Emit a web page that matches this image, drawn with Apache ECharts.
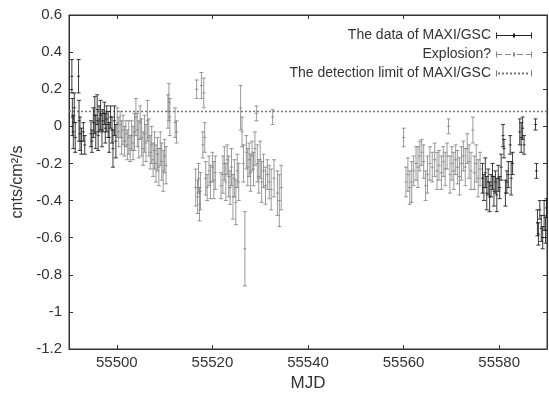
<!DOCTYPE html>
<html>
<head>
<meta charset="utf-8">
<script src="https://cdn.jsdelivr.net/npm/echarts@6/dist/echarts.min.js"></script>
<style>
  html, body { margin: 0; padding: 0; background: #fff; }
  #chart { width: 549px; height: 397px; }
</style>
</head>
<body>
<div id="chart"></div>
<script>
// [MJD, cnts/cm2/s, error]
const maxiData = [
  [55490.6, 0.27, 0.09], [55490.7, 0.05, 0.10], [55490.9, -0.03, 0.09], [55491.1, 0.10, 0.08],
  [55491.3, -0.06, 0.08], [55492.0, 0.27, 0.09], [55492.1, 0.03, 0.11], [55492.3, -0.04, 0.09],
  [55492.6, -0.08, 0.07], [55493.0, -0.03, 0.05], [55493.3, -0.10, 0.05], [55494.6, -0.04, 0.07],
  [55494.8, -0.08, 0.06], [55495.1, 0.02, 0.08], [55495.4, 0.06, 0.10], [55495.6, -0.03, 0.09],
  [55495.9, 0.09, 0.08], [55496.1, -0.05, 0.08], [55496.3, 0.04, 0.07], [55496.6, 0.06, 0.08],
  [55496.9, -0.02, 0.09], [55497.1, 0.03, 0.06], [55497.4, 0.07, 0.06], [55497.6, -0.01, 0.08],
  [55497.9, 0.04, 0.07], [55498.2, 0.01, 0.07], [55498.4, -0.06, 0.08], [55498.7, 0.05, 0.06],
  [55499.0, -0.02, 0.07], [55499.2, -0.12, 0.10], [55499.5, 0.03, 0.08], [55499.8, -0.08, 0.09],
  [55576.5, -0.28, 0.08], [55576.8, -0.33, 0.07], [55577.1, -0.25, 0.08], [55577.4, -0.36, 0.09],
  [55577.7, -0.30, 0.07], [55578.0, -0.38, 0.08], [55578.3, -0.32, 0.06], [55578.6, -0.27, 0.07],
  [55578.9, -0.35, 0.08], [55579.2, -0.30, 0.06], [55579.5, -0.37, 0.09], [55579.8, -0.28, 0.07],
  [55580.1, -0.33, 0.06], [55580.4, -0.22, 0.07], [55580.8, -0.05, 0.06], [55581.0, -0.12, 0.05],
  [55581.3, -0.36, 0.07], [55581.6, -0.30, 0.06], [55581.9, -0.26, 0.07], [55582.3, -0.10, 0.05],
  [55582.5, -0.28, 0.09], [55582.8, -0.20, 0.06], [55584.3, -0.03, 0.07], [55584.6, -0.06, 0.08],
  [55584.9, -0.01, 0.06], [55585.2, -0.10, 0.05], [55587.6, 0.01, 0.03], [55587.8, -0.24, 0.04],
  [55588.0, -0.52, 0.07], [55588.2, -0.58, 0.06], [55588.5, -0.45, 0.05], [55588.8, -0.55, 0.07],
  [55589.1, -0.60, 0.06], [55589.4, -0.48, 0.08], [55589.7, -0.56, 0.07], [55589.9, -0.44, 0.05]
];

const explosionData = [
  [55500.1, 0.02, 0.08], [55500.4, -0.03, 0.08], [55500.7, 0.01, 0.07], [55501.0, -0.06, 0.09],
  [55501.3, -0.02, 0.08], [55501.6, -0.08, 0.08], [55501.9, -0.04, 0.07], [55502.2, -0.10, 0.08],
  [55502.5, -0.06, 0.09], [55502.8, -0.12, 0.07], [55503.1, -0.05, 0.08], [55503.4, -0.09, 0.09],
  [55503.7, -0.03, 0.10], [55504.0, 0.05, 0.10], [55504.3, -0.02, 0.09], [55504.6, -0.07, 0.10],
  [55504.9, 0.02, 0.09], [55505.2, -0.06, 0.10], [55505.5, -0.12, 0.09], [55505.8, -0.04, 0.10],
  [55506.1, -0.09, 0.10], [55506.4, 0.03, 0.11], [55506.7, -0.06, 0.10], [55507.0, -0.14, 0.09],
  [55507.3, -0.10, 0.10], [55507.6, -0.18, 0.09], [55507.9, -0.13, 0.10], [55508.2, -0.20, 0.10],
  [55508.5, -0.15, 0.09], [55508.8, -0.22, 0.10], [55509.1, -0.12, 0.09], [55509.4, -0.19, 0.10],
  [55509.7, -0.24, 0.11], [55510.0, -0.16, 0.09], [55510.3, -0.21, 0.10], [55510.7, 0.08, 0.09],
  [55510.9, 0.13, 0.10], [55511.1, 0.05, 0.10], [55512.2, 0.02, 0.08], [55512.5, -0.03, 0.06],
  [55516.5, -0.33, 0.10], [55516.7, 0.20, 0.05], [55516.9, -0.38, 0.09], [55517.1, -0.28, 0.08],
  [55517.3, -0.42, 0.09], [55517.5, -0.35, 0.10], [55517.7, 0.22, 0.07], [55518.0, -0.10, 0.07],
  [55518.2, 0.18, 0.08], [55518.4, -0.06, 0.08], [55518.6, -0.28, 0.09], [55518.9, -0.33, 0.07],
  [55519.3, -0.24, 0.08], [55519.6, -0.30, 0.09], [55520.0, -0.22, 0.08], [55520.3, -0.29, 0.10],
  [55520.6, -0.25, 0.09], [55521.8, -0.32, 0.07], [55522.2, -0.26, 0.10], [55522.5, -0.20, 0.09],
  [55522.8, -0.30, 0.10], [55523.1, -0.18, 0.08], [55523.4, -0.27, 0.11], [55523.7, -0.33, 0.09],
  [55524.0, -0.22, 0.10], [55524.3, -0.38, 0.12], [55524.6, -0.28, 0.10], [55524.9, -0.41, 0.12],
  [55525.2, -0.24, 0.09], [55525.5, -0.30, 0.10], [55525.9, 0.10, 0.12], [55526.2, -0.03, 0.08],
  [55526.5, -0.20, 0.10], [55526.8, -0.66, 0.20], [55527.1, -0.14, 0.09], [55527.4, -0.22, 0.10],
  [55527.7, -0.18, 0.09], [55528.0, -0.25, 0.10], [55528.3, -0.16, 0.08], [55528.6, -0.23, 0.09],
  [55528.9, -0.12, 0.09], [55529.2, 0.07, 0.04], [55529.4, -0.20, 0.10], [55529.7, -0.27, 0.09],
  [55530.0, -0.18, 0.10], [55530.3, -0.30, 0.11], [55530.7, -0.24, 0.09], [55531.1, -0.32, 0.10],
  [55531.5, -0.26, 0.08], [55531.9, -0.30, 0.09], [55532.3, -0.34, 0.11], [55532.6, 0.05, 0.04],
  [55532.9, -0.28, 0.10], [55533.6, -0.36, 0.12], [55534.0, -0.40, 0.14], [55534.4, -0.33, 0.12],
  [55560.0, -0.06, 0.05], [55560.5, -0.30, 0.08], [55560.9, -0.26, 0.09], [55561.3, -0.33, 0.09],
  [55561.7, -0.30, 0.11], [55562.1, -0.24, 0.08], [55562.6, -0.20, 0.09], [55563.0, -0.22, 0.11],
  [55563.4, -0.16, 0.08], [55563.8, -0.14, 0.07], [55564.2, -0.19, 0.09], [55564.6, -0.32, 0.08],
  [55565.0, -0.26, 0.10], [55565.5, -0.20, 0.09], [55566.0, -0.22, 0.08], [55566.5, -0.18, 0.09],
  [55567.0, -0.24, 0.10], [55567.4, -0.21, 0.08], [55567.9, -0.25, 0.09], [55568.3, -0.19, 0.08],
  [55568.7, -0.23, 0.09], [55569.1, -0.16, 0.07], [55569.4, 0.00, 0.04], [55569.7, -0.26, 0.10],
  [55570.1, -0.20, 0.09], [55570.5, -0.24, 0.10], [55570.9, -0.18, 0.08], [55571.3, -0.22, 0.09],
  [55571.7, -0.27, 0.10], [55572.1, -0.20, 0.09], [55572.5, -0.16, 0.08], [55572.9, -0.22, 0.10],
  [55573.3, -0.12, 0.08], [55573.7, -0.19, 0.09], [55574.1, -0.24, 0.10], [55574.5, -0.02, 0.07],
  [55574.8, -0.25, 0.09], [55575.2, -0.20, 0.10], [55575.6, -0.28, 0.10], [55576.0, -0.23, 0.09]
];

const detectionLimit = 0.08;
const limitRange = [55490, 55590];
const xTicks = [55500, 55520, 55540, 55560, 55580];
const seriesNames = ['The data of MAXI/GSC', 'Explosion?', 'The detection limit of MAXI/GSC'];

const FONT = 'Liberation Sans';

function errorBar(color) {
  return function (params, api) {
    const x = api.value(0), y = api.value(1), e = api.value(2);
    const hi = api.coord([x, y + e]);
    const lo = api.coord([x, y - e]);
    const mid = api.coord([x, y]);
    const st = { stroke: color, lineWidth: 1 };
    return {
      type: 'group',
      children: [
        { type: 'line', shape: { x1: hi[0], y1: hi[1], x2: lo[0], y2: lo[1] }, style: st },
        { type: 'line', shape: { x1: hi[0] - 2, y1: hi[1], x2: hi[0] + 2, y2: hi[1] }, style: st },
        { type: 'line', shape: { x1: lo[0] - 2, y1: lo[1], x2: lo[0] + 2, y2: lo[1] }, style: st },
        { type: 'line', shape: { x1: mid[0] - 1.5, y1: mid[1], x2: mid[0] + 1.5, y2: mid[1] }, style: st }
      ]
    };
  };
}

const chart = echarts.init(document.getElementById('chart'), null, { renderer: 'canvas' });

chart.setOption({
  backgroundColor: '#ffffff',
  animation: false,
  textStyle: { fontFamily: FONT },
  grid: { left: 69, right: 2, top: 15, bottom: 38, show: true, borderColor: '#333', borderWidth: 1 },
  legend: {
    orient: 'vertical',
    align: 'right',
    right: 12,
    top: 23,
    itemWidth: 36,
    itemHeight: 8,
    itemGap: 4,
    textStyle: { fontSize: 14, color: '#333', fontFamily: FONT, lineHeight: 15 },
    data: [
      { name: seriesNames[0], icon: 'path://M0,1h1v6h-1z M0,3.5h36v1h-36z M35,1h1v6h-1z M17,2h2v4h-2z' },
      { name: seriesNames[1], icon: 'path://M0,1h1v6h-1z M0,3.5h6v1h-6z M9,3.5h6v1h-6z M17,2h2v4h-2z M21,3.5h6v1h-6z M30,3.5h6v1h-6z M35,1h1v6h-1z' },
      { name: seriesNames[2], icon: 'path://M0,1h1v6h-1z M2,3h2v2h-2z M6,3h2v2h-2z M10,3h2v2h-2z M14,3h2v2h-2z M18,3h2v2h-2z M22,3h2v2h-2z M26,3h2v2h-2z M30,3h2v2h-2z M35,1h1v6h-1z' }
    ]
  },
  xAxis: [{
    type: 'value',
    min: 55490,
    max: 55590,
    name: 'MJD',
    nameLocation: 'middle',
    nameGap: 26,
    nameTextStyle: { fontSize: 17, color: '#333' },
    axisLine: { onZero: false, lineStyle: { color: '#333' } },
    axisTick: { inside: true, length: 4, customValues: xTicks, lineStyle: { color: '#333' } },
    axisLabel: {
      customValues: xTicks, fontSize: 15, color: '#333', margin: 6,
      formatter: function (v) { return String(v); }
    },
    splitLine: { show: false }
  }, {
    type: 'value',
    position: 'top',
    min: 55490,
    max: 55590,
    axisLine: { onZero: false, lineStyle: { color: '#333' } },
    axisTick: { inside: true, length: 4, customValues: xTicks, lineStyle: { color: '#333' } },
    axisLabel: { show: false },
    splitLine: { show: false }
  }],
  yAxis: [{
    type: 'value',
    min: -1.2,
    max: 0.6,
    interval: 0.2,
    name: 'cnts/cm²/s',
    nameLocation: 'middle',
    nameGap: 40,
    nameRotate: 90,
    nameTextStyle: { fontSize: 16, color: '#333' },
    axisLine: { show: true, onZero: false, lineStyle: { color: '#333' } },
    axisTick: { show: true, inside: true, length: 4, lineStyle: { color: '#333' } },
    axisLabel: { fontSize: 15, color: '#333', margin: 7 },
    splitLine: { show: false }
  }, {
    type: 'value',
    position: 'right',
    min: -1.2,
    max: 0.6,
    interval: 0.2,
    axisLine: { show: true, onZero: false, lineStyle: { color: '#333' } },
    axisTick: { show: true, inside: true, length: 4, lineStyle: { color: '#333' } },
    axisLabel: { show: false },
    splitLine: { show: false }
  }],
  series: [{
    name: seriesNames[2],
    type: 'line',
    data: limitRange.map(function (x) { return [x, detectionLimit]; }),
    symbol: 'none',
    itemStyle: { color: '#777' },
    lineStyle: { color: '#777', width: 1.5, type: [2, 2] },
    z: 1
  }, {
    name: seriesNames[1],
    type: 'custom',
    renderItem: errorBar('rgba(120,120,120,0.75)'),
    itemStyle: { color: '#888' },
    encode: { x: 0, y: 1 },
    data: explosionData,
    clip: true,
    z: 2
  }, {
    name: seriesNames[0],
    type: 'custom',
    renderItem: errorBar('rgba(25,25,25,0.85)'),
    itemStyle: { color: '#222' },
    encode: { x: 0, y: 1 },
    data: maxiData,
    clip: true,
    z: 3
  }]
});
</script>
</body>
</html>
